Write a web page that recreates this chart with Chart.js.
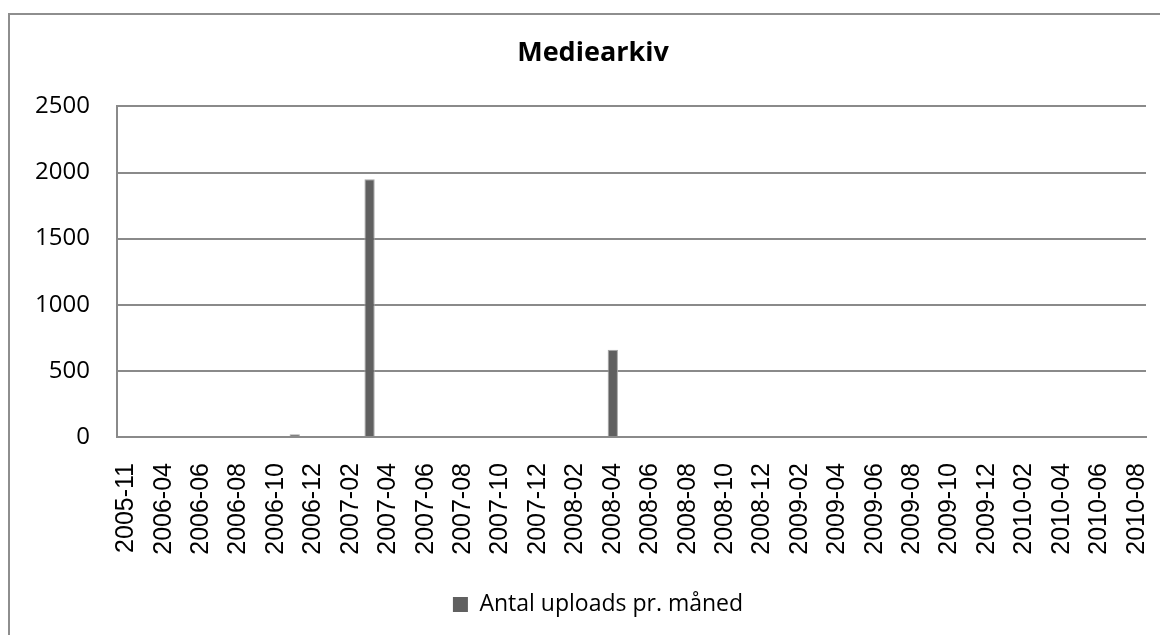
<!DOCTYPE html>
<html lang="da">
<head>
    <meta charset="UTF-8">
    <title>Mediearkiv</title>
    <script src="https://cdn.jsdelivr.net/npm/chart.js"></script>
    <style>
        body {
            margin: 0;
            background: #fff;
            overflow: hidden;
        }
        .wrap {
            position: relative;
            width: 1160px;
            height: 635px;
        }
        .frame {
            position: absolute;
            left: 8px;
            top: 13px;
            width: 1200px;
            height: 700px;
            border-left: 2px solid #8e8e8e;
            border-top: 2px solid #8e8e8e;
        }
        canvas {
            position: absolute;
            left: 0;
            top: 0;
        }
    </style>
</head>
<body>
    <div class="wrap">
        <div class="frame"></div>
        <canvas id="chart" width="1160" height="635"></canvas>
    </div>

    <script>
        const months = [
            '2005-11', '2006-03', '2006-04', '2006-05', '2006-06', '2006-07', '2006-08', '2006-09',
            '2006-10', '2006-11', '2006-12', '2007-01', '2007-02', '2007-03', '2007-04', '2007-05',
            '2007-06', '2007-07', '2007-08', '2007-09', '2007-10', '2007-11', '2007-12', '2008-01',
            '2008-02', '2008-03', '2008-04', '2008-05', '2008-06', '2008-07', '2008-08', '2008-09',
            '2008-10', '2008-11', '2008-12', '2009-01', '2009-02', '2009-03', '2009-04', '2009-05',
            '2009-06', '2009-07', '2009-08', '2009-09', '2009-10', '2009-11', '2009-12', '2010-01',
            '2010-02', '2010-03', '2010-04', '2010-05', '2010-06', '2010-07', '2010-08'
        ];
        const uploads = [
            0, 0, 0, 0, 0, 0, 0, 0,
            0, 20, 0, 0, 0, 1950, 0, 0,
            0, 0, 0, 0, 0, 0, 0, 0,
            0, 0, 660, 0, 0, 0, 0, 0,
            0, 0, 0, 0, 0, 0, 0, 0,
            0, 0, 0, 0, 0, 0, 0, 0,
            0, 0, 0, 0, 0, 0, 0
        ];
        const yTicks = [0, 500, 1000, 1500, 2000, 2500];

        const gridGrey = '#8a8a8a';
        const sansFont = "'Open Sans', 'Noto Sans', sans-serif";

        // title and legend sit a little right of the canvas centre in the original
        const nudgeBoxes = {
            id: 'nudgeBoxes',
            afterLayout(chart) {
                chart.legend.left += 25;
                chart.legend.right += 25;
                chart.titleBlock.left += 20;
                chart.titleBlock.right += 20;
            }
        };

        const ctx = document.getElementById('chart').getContext('2d');
        new Chart(ctx, {
            type: 'bar',
            data: {
                labels: months,
                datasets: [{
                    label: 'Antal uploads pr. måned',
                    data: uploads,
                    backgroundColor: '#606060',
                    borderColor: '#a6a6a6',
                    borderWidth: 1,
                    categoryPercentage: 1,
                    barPercentage: 0.55
                }]
            },
            options: {
                responsive: false,
                animation: false,
                layout: { padding: { left: 0, right: 14, top: 0, bottom: 9 } },
                plugins: {
                    title: {
                        display: true,
                        text: 'Mediearkiv',
                        color: '#000',
                        font: { family: sansFont, size: 27, weight: 'bold' },
                        padding: { top: 37, bottom: 37 }
                    },
                    legend: {
                        position: 'bottom',
                        labels: {
                            color: '#000',
                            font: { family: sansFont, size: 23 },
                            boxWidth: 15,
                            boxHeight: 15,
                            padding: 10,
                            generateLabels: (chart) => [{
                                text: chart.data.datasets[0].label,
                                fillStyle: '#606060',
                                strokeStyle: '#606060',
                                lineWidth: 0,
                                datasetIndex: 0
                            }]
                        }
                    },
                    tooltip: { enabled: false }
                },
                scales: {
                    x: {
                        grid: { display: false, drawTicks: false },
                        border: { color: gridGrey, width: 2 },
                        ticks: {
                            autoSkip: false,
                            maxRotation: 90,
                            minRotation: 90,
                            padding: 26,
                            color: '#000',
                            font: { family: "'Liberation Sans', Arial, sans-serif", size: 25 },
                            callback: function (value, index) {
                                return index % 2 === 0 ? this.getLabelForValue(value) : '';
                            }
                        },
                        afterFit: (scale) => {
                            scale.height = 146;
                            scale.paddingLeft = 0;
                            scale.paddingRight = 0;
                        }
                    },
                    y: {
                        min: 0,
                        max: 2500,
                        afterBuildTicks: (scale) => {
                            scale.ticks = yTicks.map(v => ({ value: v }));
                        },
                        grid: { color: gridGrey, lineWidth: 2, drawTicks: false },
                        border: { color: gridGrey, width: 2 },
                        ticks: {
                            padding: 27,
                            color: '#000',
                            font: { family: sansFont, size: 24 },
                            callback: (value) => String(value)
                        },
                        afterFit: (scale) => { scale.width = 117; }
                    }
                }
            },
            plugins: [nudgeBoxes]
        });
    </script>
</body>
</html>
